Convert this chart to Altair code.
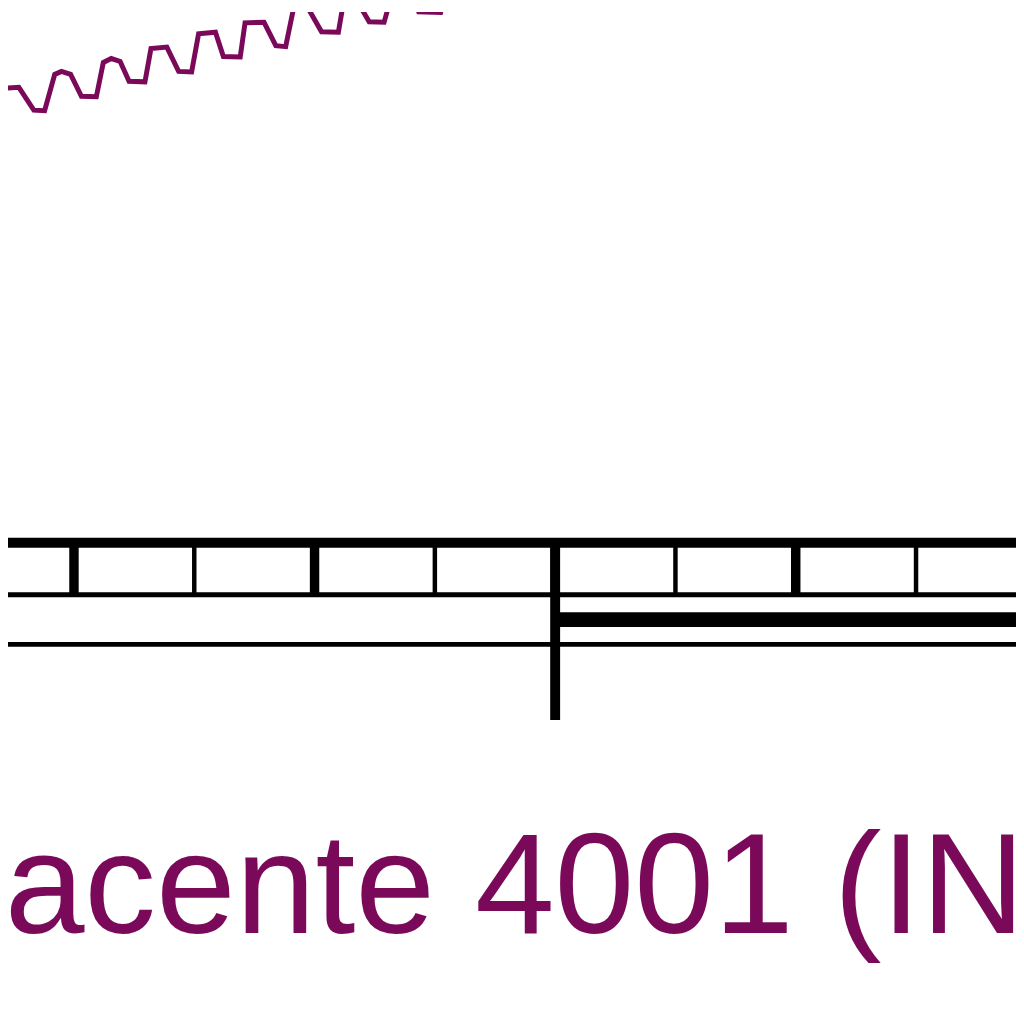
import altair as alt
import pandas as pd

PURPLE = "#7B095A"

# Purple series: year, value
line_years = [1986.43, 1986.93, 1987.13, 1987.71, 1988.33, 1988.78, 1989.20, 1989.48,
              1989.86, 1990.31, 1990.93, 1991.22, 1991.55, 1991.92, 1992.29, 1992.95,
              1993.20, 1993.86, 1994.35, 1994.89, 1995.18, 1995.88, 1996.21, 1996.91,
              1997.11, 1997.90, 1998.39, 1998.80, 1999.13, 1999.71, 2000.29, 2000.99,
              2001.24, 2001.65, 2002.27, 2002.89, 2003.30, 2003.92, 2004.33, 2005.24,
              2005.61, 2006.14, 2006.47, 2007.13, 2007.55, 2008.16]
line_values = [89.6, 89.7, 92.3, 92.4, 90.1, 90.05, 93.7, 94.0,
               93.7, 91.5, 91.45, 94.9, 95.3, 95.0, 93.0, 92.95,
               96.3, 96.45, 94.0, 93.95, 97.8, 97.95, 95.5, 95.45,
               98.9, 98.95, 96.6, 96.5, 100.4, 100.45, 98.0, 97.95,
               101.5, 101.6, 99.0, 98.95, 102.5, 102.6, 100.0, 99.95,
               103.5, 103.6, 100.9, 100.95, 104.5, 104.6]

major_years = [1990, 2000, 2010, 2020]
minor_years = [1995, 2005, 2015, 2025]
marker_years = [2010]
period_start = [2010]
period_end = [2030]
label_text = ["acente 4001 (IN"]

XDOM = [1987.258, 2029.155]
YDOM = [1, 100]
W, H = 1016, 990

xs = alt.Scale(domain=XDOM, nice=False, zero=False)
ys = alt.Scale(domain=YDOM, nice=False, zero=False)

df_line = pd.DataFrame({"year": line_years, "value": line_values})
df_major = pd.DataFrame({"year": major_years})
df_minor = pd.DataFrame({"year": minor_years})
df_marker = pd.DataFrame({"year": marker_years})
df_period = pd.DataFrame({"start": period_start, "end": period_end})
df_label = pd.DataFrame({"label": label_text})
one = pd.DataFrame({"k": [0]})

line = alt.Chart(df_line).mark_line(color=PURPLE, strokeWidth=5, clip=True, strokeJoin="miter").encode(
    x=alt.X("year:Q", scale=xs, axis=None),
    y=alt.Y("value:Q", scale=ys, axis=None),
)

top_rule = alt.Chart(one).mark_rule(color="black", strokeWidth=10).encode(
    x=alt.value(0), x2=alt.value(W), y=alt.value(535))
mid_rule = alt.Chart(one).mark_rule(color="black", strokeWidth=5).encode(
    x=alt.value(0), x2=alt.value(W), y=alt.value(587.5))
low_rule = alt.Chart(one).mark_rule(color="black", strokeWidth=5).encode(
    x=alt.value(0), x2=alt.value(W), y=alt.value(637.5))

major = alt.Chart(df_major).mark_rule(color="black", strokeWidth=9.5).encode(
    x=alt.X("year:Q", scale=xs, axis=None), y=alt.value(535), y2=alt.value(587.5))
minor = alt.Chart(df_minor).mark_rule(color="black", strokeWidth=4.5).encode(
    x=alt.X("year:Q", scale=xs, axis=None), y=alt.value(535), y2=alt.value(587.5))

marker = alt.Chart(df_marker).mark_rule(color="black", strokeWidth=10).encode(
    x=alt.X("year:Q", scale=xs, axis=None), y=alt.value(535), y2=alt.value(713.7))

period = alt.Chart(df_period).mark_rule(color="black", strokeWidth=15, clip=True).encode(
    x=alt.X("start:Q", scale=xs, axis=None), x2="end:Q", y=alt.value(612.5))

label = alt.Chart(df_label).mark_text(
    font="Liberation Sans", fontSize=144.5, color=PURPLE, align="left", baseline="alphabetic"
).encode(text="label:N", x=alt.value(-3.4), y=alt.value(928))

chart = alt.layer(
    line, top_rule, mid_rule, low_rule, major, minor, marker, period, label
).properties(
    width=W, height=H, padding=0, autosize=alt.AutoSizeParams(type="none"), background="white"
).configure_view(strokeWidth=0)

chart.save("out.html", embed_options={"renderer": "svg", "actions": False})
